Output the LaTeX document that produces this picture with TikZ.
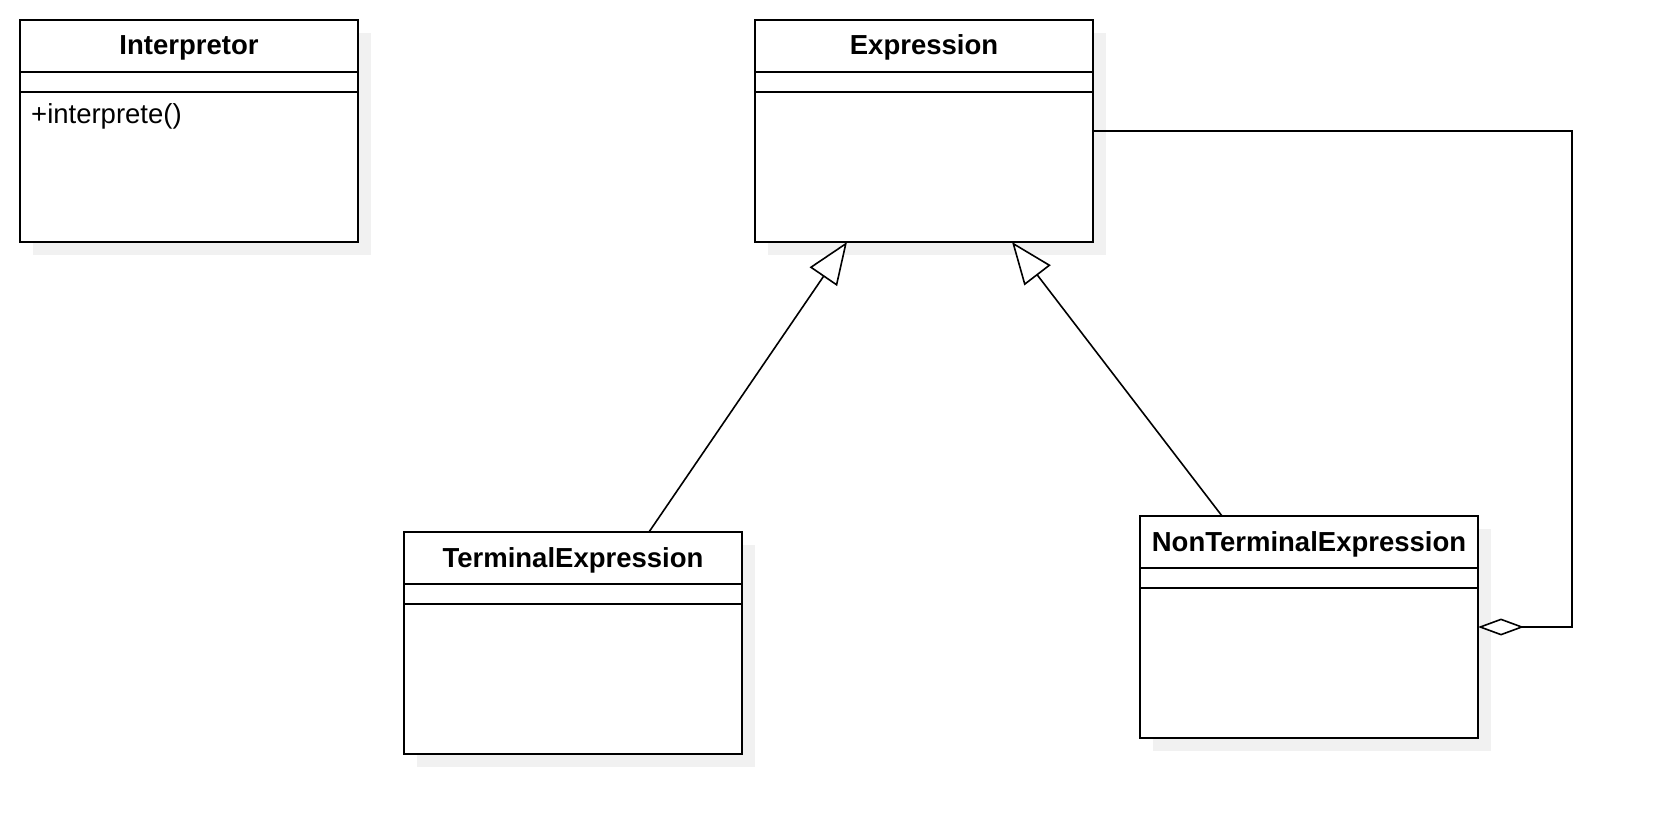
\documentclass[tikz,border=0pt]{standalone}
\usepackage{fontspec}
\setmainfont{Liberation Sans}
\usetikzlibrary{arrows.meta}
\definecolor{shadowgray}{HTML}{F1F1F1}
\begin{document}
\begin{tikzpicture}[x=1pt,y=-1pt,
  classbox/.style={draw=black, line width=1.6pt, fill=white, minimum width=338pt, minimum height=222pt, inner sep=0pt, outer sep=0pt, anchor=north west},
  shadowbox/.style={fill=shadowgray, draw=none, minimum width=338pt, minimum height=222pt, inner sep=0pt, outer sep=0pt, anchor=north west},
  classtitle/.style={font=\fontsize{27.5}{33}\selectfont\bfseries, inner sep=0pt, anchor=base},
  member/.style={font=\fontsize{27.5}{33}\selectfont, inner sep=0pt, anchor=base west},
  divider/.style={line width=1.6pt},
  inherit/.style={line width=1.6pt, -{Triangle[open, length=42pt, width=33pt, fill=white]}},
  aggr/.style={line width=1.6pt, -{Diamond[open, length=46pt, width=17pt, fill=white]}}
]
\useasboundingbox (0,0) rectangle (1654,834);
% shadows
\node[shadowbox] (intps) at (33,33) {};
\node[shadowbox] (exprs) at (768,33) {};
\node[shadowbox] (terms) at (417,545) {};
\node[shadowbox] (nts) at (1153,529) {};
% boxes
\node[classbox] (intp) at (20,20) {};
\node[classbox] (expr) at (755,20) {};
\node[classbox] (term) at (404,532) {};
\node[classbox] (nt) at (1140,516) {};
% dividers and titles
\foreach \b/\t in {intp/Interpretor, expr/Expression, term/TerminalExpression, nt/NonTerminalExpression}{
  \draw[divider] ([yshift=-52pt]\b.north west) -- ([yshift=-52pt]\b.north east);
  \draw[divider] ([yshift=-72pt]\b.north west) -- ([yshift=-72pt]\b.north east);
  \node[classtitle] (\b title) at ([yshift=-35pt]\b.north) {\t};
}
\node[member] (intpop) at ([xshift=11pt,yshift=-104pt]intp.north west) {+interprete()};
% connectors
\draw[inherit] ([xshift=245pt]term.north west) -- ([xshift=92pt]expr.south west);
\draw[inherit] ([xshift=82pt]nt.north west) -- ([xshift=257pt]expr.south west);
\coordinate (c1) at (1572,131);
\coordinate (c2) at (1572,627);
\draw[aggr] (expr.east) -- (c1) -- (c2) -- (nt.east);
\end{tikzpicture}
\end{document}
